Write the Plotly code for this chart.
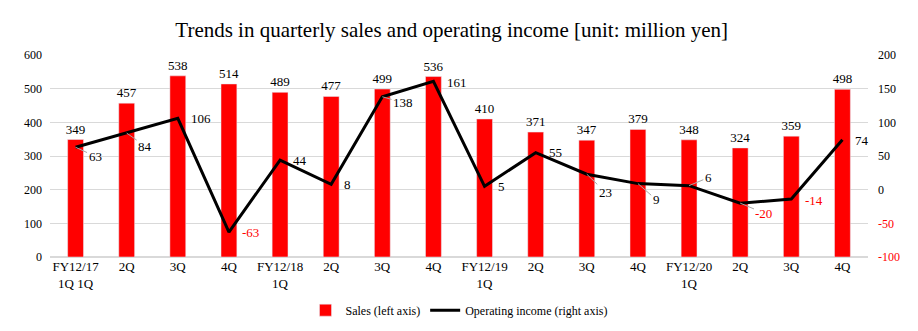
import plotly.graph_objects as go

categories = ["FY12/17<br>1Q 1Q", "2Q", "3Q", "4Q", "FY12/18<br>1Q", "2Q", "3Q", "4Q",
              "FY12/19<br>1Q", "2Q", "3Q", "4Q", "FY12/20<br>1Q", "2Q", "3Q", "4Q"]
sales = [349, 457, 538, 514, 489, 477, 499, 536, 410, 371, 347, 379, 348, 324, 359, 498]
op_income = [63, 84, 106, -63, 44, 8, 138, 161, 5, 55, 23, 9, 6, -20, -14, 74]
left_ticks = [0, 100, 200, 300, 400, 500, 600]
right_ticks = [-100, -50, 0, 50, 100, 150, 200]

# label placement (pixel offsets dx to label left edge, dy downward, leader line flag)
label_offsets = [(13, 9, True), (12, 13, True), (11, 0, False), (11, 0, False),
                 (11, 0, False), (11, 0, False), (11, 6, True), (12, 1, False),
                 (11, 0, False), (11, 0, False), (12, 18, True), (15, 16, True),
                 (16, -8, True), (14, 10, True), (12, 1, False), (11, 1, False)]

FONT = "Liberation Serif"
xs = list(range(len(categories)))

fig = go.Figure()
fig.add_trace(go.Bar(
    x=xs, y=sales, name="Sales (left axis)", marker_color="#ff0000",
    width=0.31, text=[str(v) for v in sales], textposition="outside",
    constraintext="none", textangle=0,
    outsidetextfont=dict(family=FONT, size=13, color="#000000"), cliponaxis=False,
    yaxis="y"))
fig.add_trace(go.Scatter(
    x=xs, y=op_income, name="Operating income (right axis)", mode="lines",
    line=dict(color="#000000", width=3), yaxis="y2"))

annotations = []
for i, v in enumerate(op_income):
    dx, dy, leader = label_offsets[i]
    txt = str(v)
    col = "#ff0000" if v < 0 else "#000000"
    w = 6.5 * len(txt)
    if leader:
        annotations.append(dict(
            x=i, y=v, xref="x", yref="y2", text=txt, showarrow=True,
            ax=dx + w / 2, ay=dy, axref="pixel", ayref="pixel",
            arrowhead=0, arrowwidth=1, arrowcolor="#a6a6a6", standoff=0,
            font=dict(family=FONT, size=13, color=col)))
    else:
        annotations.append(dict(
            x=i, y=v, xref="x", yref="y2", text=txt, showarrow=False,
            xanchor="left", yanchor="middle", xshift=dx, yshift=-dy,
            font=dict(family=FONT, size=13, color=col)))

right_text = [f'<span style="color:#ff0000">{t}</span>' if t < 0 else str(t) for t in right_ticks]

fig.update_layout(
    width=918, height=331,
    margin=dict(l=50, r=50, t=55, b=74, autoexpand=False),
    paper_bgcolor="white", plot_bgcolor="white",
    font=dict(family=FONT, size=12, color="#000000"),
    title=dict(text="Trends in quarterly sales and operating income [unit: million yen]",
               x=0.492, xanchor="center", y=0.91, yanchor="middle",
               font=dict(family=FONT, size=21, color="#000000")),
    xaxis=dict(tickmode="array", tickvals=xs, ticktext=categories,
               range=[-0.5, len(categories) - 0.5], showgrid=False,
               showline=False, ticks="", zeroline=False, automargin=False,
               tickfont=dict(family=FONT, size=13, color="#000000")),
    yaxis=dict(range=[0, 600], tickvals=left_ticks, showgrid=True,
               gridcolor="#d9d9d9", gridwidth=1, zeroline=True, zerolinecolor="#d9d9d9",
               ticks="", showline=False, automargin=False, ticklabelstandoff=7,
               tickfont=dict(family=FONT, size=12, color="#000000")),
    yaxis2=dict(range=[-100, 200], tickvals=right_ticks, ticktext=right_text,
                overlaying="y", side="right", showgrid=False, zeroline=False,
                ticks="", showline=False, automargin=False, ticklabelstandoff=9,
                tickfont=dict(family=FONT, size=12, color="#000000")),
    legend=dict(orientation="h", x=0.5, xanchor="center", y=0.063, yanchor="middle",
                yref="container", font=dict(family=FONT, size=12, color="#000000")),
    annotations=annotations,
    bargap=0.69,
)

fig.write_html("out.html")
